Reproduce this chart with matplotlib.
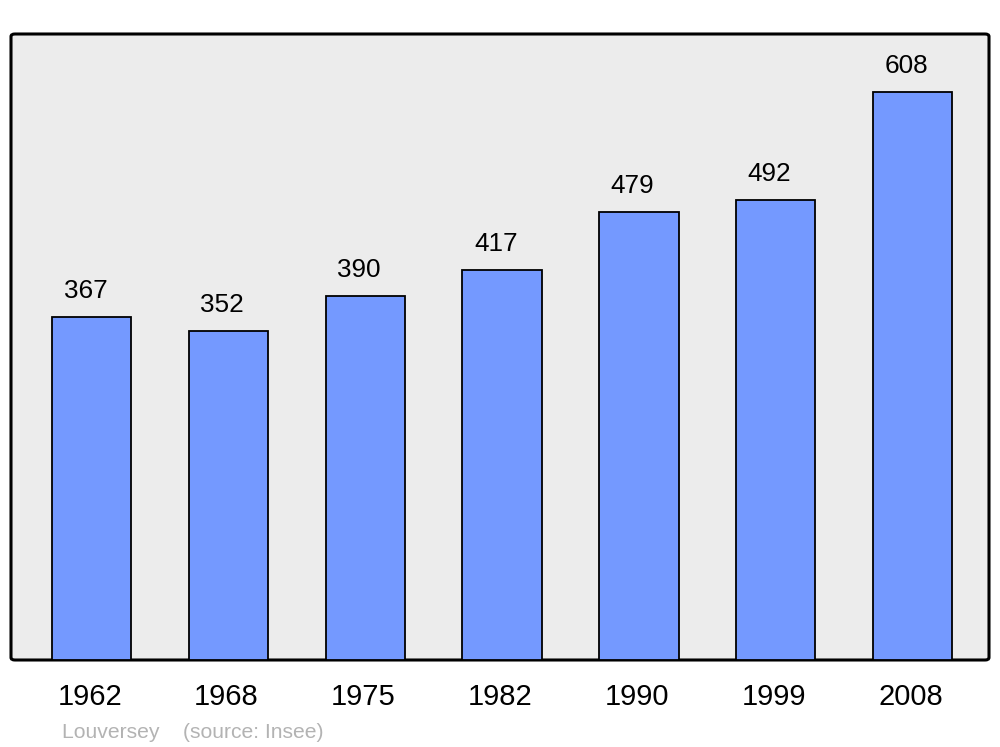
import matplotlib.pyplot as plt
import matplotlib.transforms as mtransforms
from matplotlib.patches import FancyBboxPatch

years = ['1962', '1968', '1975', '1982', '1990', '1999', '2008']
population = [367, 352, 390, 417, 479, 492, 608]

plt.rcParams['font.family'] = ['Liberation Sans', 'DejaVu Sans']

fig = plt.figure(figsize=(10, 7.47), dpi=100)
# axes box in pixels: x 11..989, y 34..660 (from top)
ax = fig.add_axes([11/1000, 1 - 660/747, 978/1000, 626/747])
ax.set_facecolor('none')

x = list(range(len(years)))
ax.bar(x, population, width=0.58, color='#7499ff', edgecolor='black',
       linewidth=1.3, zorder=2)

for xi, v in zip(x, population):
    ax.annotate(str(v), (xi, v), xytext=(-4.5, 18.8), textcoords='offset points',
                ha='center', va='center', fontsize=18.8)

ax.set_xlim(-0.59, 6.56)
ax.set_ylim(0, 670)

# rounded grey frame
frame = FancyBboxPatch((0, 0), 1, 1, boxstyle='round,pad=0,rounding_size=0.004',
                       transform=ax.transAxes, facecolor='#ececec',
                       edgecolor='black', linewidth=2.2, zorder=0, clip_on=False)
ax.add_patch(frame)
for s in ax.spines.values():
    s.set_visible(False)

ax.set_yticks([])
ax.set_xticks(x)
ax.set_xticklabels(years, fontsize=21)
ax.tick_params(axis='x', length=0, pad=16.5)
shift = mtransforms.ScaledTranslation(-2/100, 0, fig.dpi_scale_trans)
for lab in ax.get_xticklabels():
    lab.set_transform(lab.get_transform() + shift)

fig.text(62/1000, 1 - 732/747, 'Louversey    (source: Insee)', fontsize=15.2,
         color='#b3b3b3', ha='left', va='center')

fig.savefig('out.png', dpi=100)
